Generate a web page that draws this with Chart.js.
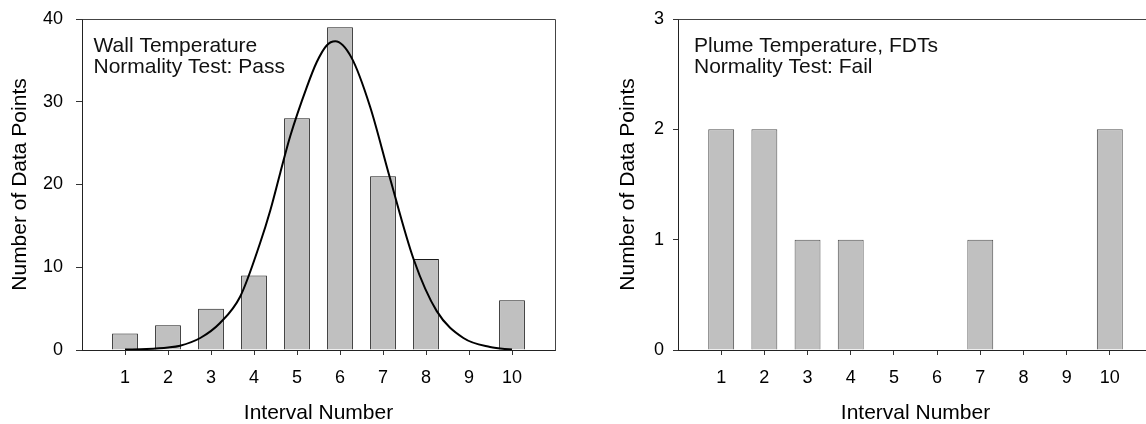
<!DOCTYPE html>
<html>
<head>
<meta charset="utf-8">
<title>Normality Test Histograms</title>
<script src="https://cdn.jsdelivr.net/npm/chart.js@4.4.0/dist/chart.umd.min.js"></script>
<style>
  html, body { margin: 0; padding: 0; background: #fff; overflow: hidden; }
  body { position: relative; width: 1146px; height: 424px; }
  #chart-wall { position: absolute; left: 0; top: 0; }
  #chart-plume { position: absolute; left: 608px; top: 0; }
</style>
</head>
<body>
<canvas id="chart-wall" width="565" height="424"></canvas>
<canvas id="chart-plume" width="555" height="424"></canvas>
<script>
// Data
const intervals = [1, 2, 3, 4, 5, 6, 7, 8, 9, 10];
const wallCounts = [2, 3, 5, 9, 28, 39, 21, 11, 0, 6];
const plumeCounts = [2, 2, 1, 1, 0, 0, 1, 0, 0, 2];

// fitted normal curve
const curveX = [1.0, 1.5, 2.0, 2.28, 2.75, 3.21, 3.68, 4.14, 4.38, 4.61, 4.84, 5.23, 5.46, 5.69, 5.89, 6.27, 6.70, 7.15, 7.71, 8.25, 8.87, 9.49, 10.0];
const curveY = [0.05, 0.12, 0.3, 0.52, 1.45, 3.26, 6.47, 12.9, 16.9, 21.4, 25.8, 31.8, 34.8, 36.8, 37.3, 35.3, 29.4, 21.0, 11.0, 4.7, 1.45, 0.36, 0.05];

const wallTicks = [0, 10, 20, 30, 40];
const plumeTicks = [0, 1, 2, 3];

const wallNote = ['Wall Temperature', 'Normality Test: Pass'];
const plumeNote = ['Plume Temperature, FDTs', 'Normality Test: Fail'];

Chart.defaults.font.family = "'Liberation Sans', Arial, sans-serif";
Chart.defaults.color = '#000';

// box round the plot area (top + right edge)
const frame = {
  id: 'frame',
  afterDraw(chart) {
    const { ctx, chartArea: a } = chart;
    ctx.save();
    ctx.strokeStyle = '#444';
    ctx.lineWidth = 1;
    ctx.beginPath();
    ctx.moveTo(Math.round(a.left) + 0.5, Math.round(a.top) + 0.5);
    ctx.lineTo(Math.round(a.right) + 0.5, Math.round(a.top) + 0.5);
    ctx.lineTo(Math.round(a.right) + 0.5, Math.round(a.bottom) + 0.5);
    ctx.stroke();
    ctx.restore();
  }
};

// text block in the upper left of the plot
const note = {
  id: 'note',
  afterDraw(chart, args, opts) {
    const { ctx, chartArea: a } = chart;
    ctx.save();
    ctx.fillStyle = '#111';
    ctx.font = `21px ${Chart.defaults.font.family}`;
    ctx.textBaseline = 'alphabetic';
    (opts.lines || []).forEach((t, i) => {
      ctx.fillText(t, a.left + opts.dx, a.top + opts.dy + i * 21.6);
    });
    ctx.restore();
  }
};

const makeChart = (id, counts, yTicks, o) => {
  const datasets = [];
  if (o.curve) {
    datasets.push({
      type: 'line',
      data: o.curve.x.map((x, i) => ({ x: x, y: o.curve.y[i] })),
      borderColor: '#000',
      borderWidth: 2,
      pointRadius: 0,
      cubicInterpolationMode: 'monotone',
      fill: false,
      order: 0
    });
  }
  datasets.push({
    type: 'bar',
    data: intervals.map((x, i) => ({ x: x, y: counts[i] })),
    backgroundColor: '#c0c0c0',
    borderColor: o.barBorder,
    borderWidth: 1,
    borderSkipped: 'start',
    barPercentage: 0.6,
    categoryPercentage: 1,
    order: 1
  });

  return new Chart(document.getElementById(id), {
    type: 'bar',
    data: { datasets: datasets },
    options: {
      responsive: false,
      animation: false,
      layout: { padding: { top: 19, right: 10, left: 0, bottom: 0 } },
      plugins: {
        legend: { display: false },
        tooltip: { enabled: false },
        note: { lines: o.note, dx: o.noteDx, dy: 32.5 }
      },
      scales: {
        x: {
          type: 'linear',
          min: 0,
          max: 11,
          offset: false,
          afterBuildTicks: (s) => { s.ticks = intervals.map(v => ({ value: v })); },
          afterFit: (s) => { s.height = 74; },
          ticks: { font: { size: 18 }, padding: 12, maxRotation: 0, autoSkip: false },
          grid: { offset: false, drawOnChartArea: false, tickLength: 5, color: '#333' },
          border: { color: '#222', width: 1 },
          title: { display: true, text: 'Interval Number', font: { size: 21 }, padding: { top: 0, bottom: -1.5 } }
        },
        y: {
          min: 0,
          max: yTicks[yTicks.length - 1],
          afterBuildTicks: (s) => { s.ticks = yTicks.map(v => ({ value: v })); },
          afterFit: (s) => {
            s.width = o.yWidth;
            s.paddingTop = 0;
            s.paddingBottom = 0;
          },
          ticks: { font: { size: 18 }, padding: o.yPad },
          grid: { drawOnChartArea: false, tickLength: o.yTick, color: '#333' },
          border: { color: '#222', width: 1 },
          title: { display: true, text: 'Number of Data Points', font: { size: 21 }, padding: { top: 7.5, bottom: 0 } }
        }
      }
    },
    plugins: [frame, note]
  });
};

// Chart Wall Temperature
makeChart('chart-wall', wallCounts, wallTicks, {
  curve: { x: curveX, y: curveY },
  barBorder: '#1a1a1a',
  note: wallNote,
  noteDx: 11.5,
  yWidth: 82,
  yPad: 13,
  yTick: 6
});

// Chart Plume Temperature
makeChart('chart-plume', plumeCounts, plumeTicks, {
  barBorder: '#505050',
  note: plumeNote,
  noteDx: 16,
  yWidth: 70,
  yPad: 9,
  yTick: 5
});
</script>
</body>
</html>
